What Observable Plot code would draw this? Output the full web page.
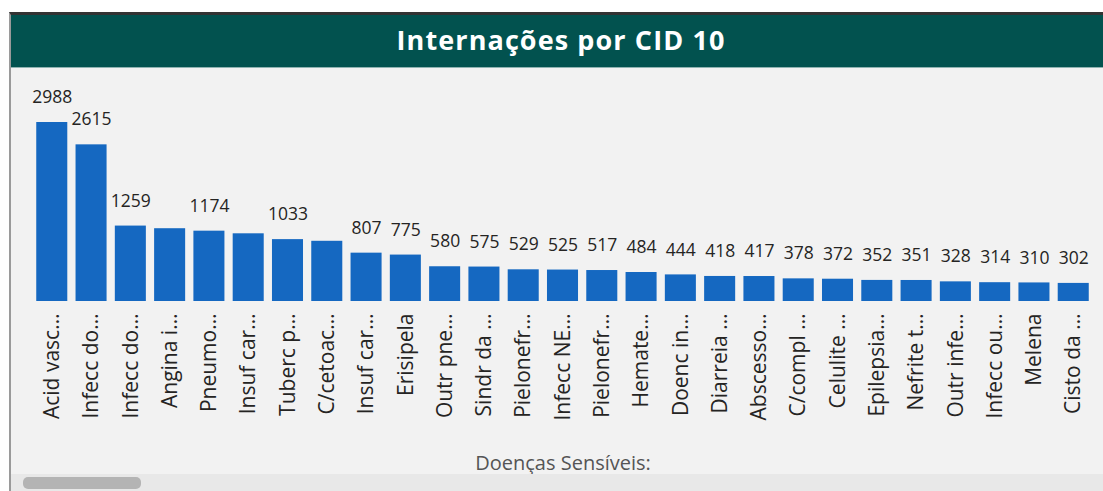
<!DOCTYPE html>
<html>
<head>
<meta charset="utf-8">
<script src="https://cdn.jsdelivr.net/npm/d3@7"></script>
<script src="https://cdn.jsdelivr.net/npm/@observablehq/plot@0.6"></script>
<style>
  html, body { margin: 0; padding: 0; background: #ffffff; }
  body { width: 1103px; height: 491px; overflow: hidden; position: relative; font-family: "Open Sans", "Noto Sans", sans-serif; }
  #frame { position: absolute; left: 9px; top: 12px; width: 1094px; height: 479px; border-left: 2px solid #9a9a9a; border-top: 3px solid #333333; background: #f2f2f2; box-sizing: border-box; }
  #title { position: absolute; left: 0; top: 0; width: 100%; height: 53px; padding-left: 8px; background: #02524f; color: #ffffff; font-weight: bold; font-size: 27px; letter-spacing: 1.1px; text-align: center; line-height: 50px; font-family: "Open Sans", "Noto Sans", sans-serif; border-bottom: 1px solid #8fb3b1; box-sizing: border-box; }
  #chart { position: absolute; left: 0; top: 53px; }
  #track { position: absolute; left: 0; top: 459px; width: 100%; height: 17px; background: #e8e8e8; }
  #thumb { position: absolute; left: 12px; top: 3px; width: 118px; height: 12px; background: #b4b4b4; border-radius: 5px; }
  #chart svg g[aria-label="x-axis label"] text { font-size: 20px; fill: #555555; }
</style>
</head>
<body>
<div id="frame">
  <div id="title">Internações por CID 10</div>
  <div id="chart"></div>
  <div id="track"><div id="thumb"></div></div>
</div>
<script>
const labels = ["Acid vasc…", "Infecc do…", "Infecc do…", "Angina i…", "Pneumo…", "Insuf car…", "Tuberc p…", "C/cetoac…", "Insuf car…", "Erisipela", "Outr pne…", "Sindr da …", "Pielonefr…", "Infecc NE…", "Pielonefr…", "Hemate…", "Doenc in…", "Diarreia …", "Abscesso…", "C/compl …", "Celulite …", "Epilepsia…", "Nefrite t…", "Outr infe…", "Infecc ou…", "Melena", "Cisto da …"];
const values = [2988, 2615, 1259, 1215, 1174, 1130, 1033, 1005, 807, 775, 580, 575, 529, 525, 517, 484, 444, 418, 417, 378, 372, 352, 351, 328, 314, 310, 302];
// Power BI hides some overlapping data labels
const showLabel = [true, true, true, false, true, false, true, false, true, true, true, true, true, true, true, true, true, true, true, true, true, true, true, true, true, true, true];
const axisTitle = "Doenças Sensíveis:";

const data = values.map((v, i) => ({i, label: labels[i], value: v, show: showLabel[i]}));

const chart = Plot.plot({
  width: 1092,
  height: 406,
  marginLeft: 17,
  marginRight: 6,
  marginTop: 54,
  marginBottom: 173,
  style: {background: "transparent", fontFamily: "'Open Sans', 'Noto Sans', sans-serif"},
  x: {domain: d3.range(values.length), padding: 0.21, round: false, label: null},
  y: {domain: [0, 2988], axis: null},
  marks: [
    Plot.barY(data, {x: "i", y: "value", fill: "#1568c1"}),
    Plot.text(data.filter(d => d.show), {x: "i", y: "value", text: d => String(d.value), dy: -25, fontSize: 17.5, fill: "#252423"}),
    Plot.axisX({
      tickFormat: i => labels[i],
      tickRotate: -90,
      tickSize: 0,
      tickPadding: 12,
      fontSize: 21,
      color: "#252423",
      label: axisTitle,
      labelAnchor: "center",
      labelOffset: 168,
      labelArrow: "none"
    })
  ]
});
document.getElementById("chart").appendChild(chart);
</script>
</body>
</html>
